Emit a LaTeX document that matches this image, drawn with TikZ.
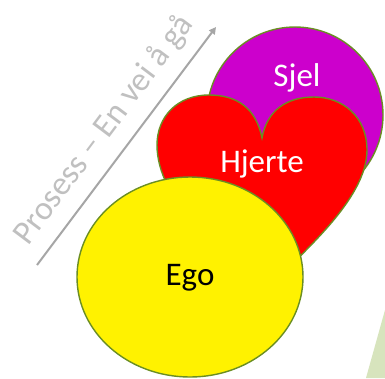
\documentclass[tikz,border=0pt]{standalone}
\usepackage{fontspec}
\setmainfont{Carlito}
\usetikzlibrary{arrows.meta,calc}
\definecolor{outl}{HTML}{6B8E23}
\definecolor{sjelc}{HTML}{CC00CC}
\definecolor{arrc}{HTML}{A6A6A6}
\definecolor{txtc}{HTML}{C0C0C0}
\definecolor{grn}{HTML}{D7E4BD}
\tikzset{
  blob/.style={draw=outl, line width=1.4pt},
  lbl/.style={font=\fontsize{33}{36}\selectfont, inner sep=0pt},
}
\begin{document}
\begin{tikzpicture}[x=1pt,y=-1pt]
\useasboundingbox (0,0) rectangle (385,378);
\fill[white] (0,0) rectangle (385,378);
% green triangle
\fill[grn] (385,310) -- (366,378) -- (385,378) -- cycle;
% arrow
\coordinate (as) at (37,265);
\coordinate (ae) at (216,27);
\draw[arrc, line width=2pt, -{Triangle[length=7pt,width=7pt]}] (as) -- (ae);
\node[lbl, font=\fontsize{33.5}{36}\selectfont, text=txtc, rotate=53.1, anchor=south] (proc) at (116,139) {Prosess – En vei å gå};
% Sjel
\fill[sjelc, blob] (295,115) circle (88);
% Heart
\path[fill=red, blob] (262,138) .. controls (256,108) and (237,95) .. (209,95)
  .. controls (177,95) and (157,117) .. (157,145)
  .. controls (157,200) and (220,250) .. (255,300)
  .. controls (300,255) and (367,200) .. (367,150)
  .. controls (367,117) and (343,97) .. (314,97)
  .. controls (287,97) and (267,110) .. (262,138) -- cycle;
% Ego
\fill[yellow, blob] (190,277) ellipse [x radius=113, y radius=100];
\node[lbl, text=white] (sjel) at (297,78) {Sjel};
\node[lbl, text=white] (hjerte) at (262,164) {Hjerte};
\node[lbl, text=black] (ego) at (190,278) {Ego};
\end{tikzpicture}
\end{document}
